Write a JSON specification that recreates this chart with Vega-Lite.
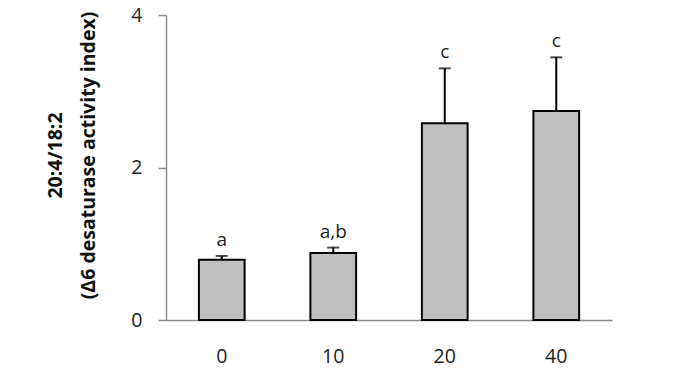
{
  "$schema": "https://vega.github.io/schema/vega-lite/v6.json",
  "autosize": "none",
  "width": 446,
  "height": 305,
  "padding": {"left": 166, "top": 15, "right": 63, "bottom": 55},
  "background": "white",
  "config": {"view": {"stroke": null}, "font": "Open Sans"},
  "data": {"values": [
    {"dose": "0", "mean": 0.79, "err": 0.84, "label": "a"},
    {"dose": "10", "mean": 0.88, "err": 0.95, "label": "a,b"},
    {"dose": "20", "mean": 2.58, "err": 3.30, "label": "c"},
    {"dose": "40", "mean": 2.74, "err": 3.445, "label": "c"}
  ]},
  "encoding": {
    "x": {"field": "dose", "type": "ordinal", "sort": null,
      "scale": {"paddingInner": 0, "paddingOuter": 0},
      "axis": {"title": null, "labelAngle": 0, "ticks": false, "labelPadding": 27, "labelFontSize": 19.5, "labelColor": "#222", "domainColor": "#8c8c8c", "domainWidth": 1.5, "labelFont": "Open Sans"}}
  },
  "layer": [
    {"mark": {"type": "rule", "color": "black", "strokeWidth": 2},
     "encoding": {"y": {"field": "mean", "type": "quantitative"}, "y2": {"field": "err"}}},
    {"mark": {"type": "tick", "color": "black", "thickness": 2, "size": 12, "orient": "horizontal"},
     "encoding": {"y": {"field": "err", "type": "quantitative"}}},
    {"mark": {"type": "bar", "fill": "#bfbfbf", "stroke": "black", "strokeWidth": 2, "width": {"band": 0.41}},
     "encoding": {"y": {"field": "mean", "type": "quantitative",
       "scale": {"domain": [0, 4], "nice": false},
       "axis": {"values": [0, 2, 4], "format": "d", "grid": false, "tickSize": 8, "tickColor": "#8c8c8c", "domainColor": "#8c8c8c", "domainWidth": 1.5, "tickWidth": 1.5,
         "labelPadding": 16, "labelFontSize": 19.5, "labelColor": "#222", "labelFont": "Open Sans",
         "title": ["20:4/18:2", "(Δ6 desaturase activity index)"],
         "titleFont": "Open Sans", "titleFontSize": 19.5, "titleFontWeight": "bold", "titleColor": "#111",
         "titleX": -120, "titleY": 140, "titleAngle": -90, "titleAlign": "center", "titleBaseline": "top", "titleLineHeight": 33}}}},
    {"mark": {"type": "text", "baseline": "bottom", "dy": -6, "fontSize": 19, "font": "Open Sans", "color": "#222"},
     "encoding": {"y": {"field": "err", "type": "quantitative"}, "text": {"field": "label"}}}
  ]
}
